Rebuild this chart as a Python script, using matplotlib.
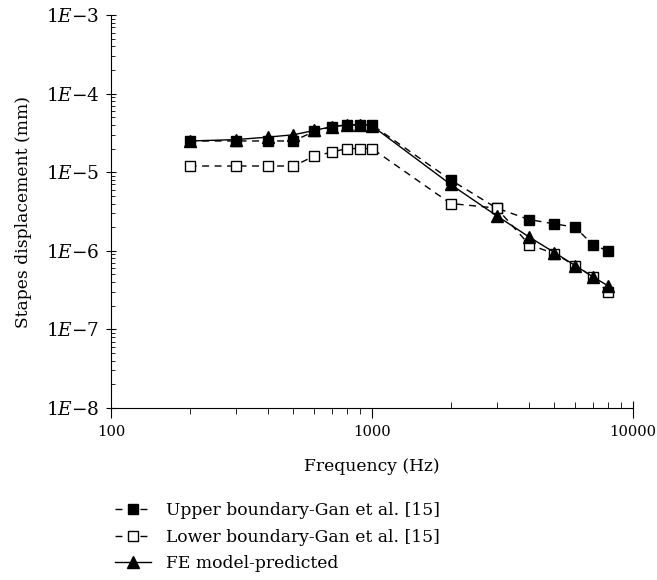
import math
import matplotlib.pyplot as plt
import matplotlib.ticker as mticker

plt.rcParams['font.family'] = 'DejaVu Serif'
plt.rcParams['mathtext.fontset'] = 'custom'
plt.rcParams['mathtext.rm'] = 'DejaVu Serif'
plt.rcParams['mathtext.it'] = 'DejaVu Serif:italic'

freq = [200, 300, 400, 500, 600, 700, 800, 900, 1000,
        2000, 3000, 4000, 5000, 6000, 7000, 8000]
upper = [2.5e-5, 2.5e-5, 2.5e-5, 2.5e-5, 3.3e-5, 3.8e-5, 4.0e-5, 4.0e-5, 4.0e-5,
         8.0e-6, 3.5e-6, 2.5e-6, 2.2e-6, 2.0e-6, 1.2e-6, 1.0e-6]
lower = [1.2e-5, 1.2e-5, 1.2e-5, 1.2e-5, 1.6e-5, 1.8e-5, 2.0e-5, 2.0e-5, 2.0e-5,
         4.0e-6, 3.5e-6, 1.2e-6, 0.92e-6, 0.65e-6, 0.47e-6, 0.3e-6]
fe = [2.5e-5, 2.6e-5, 2.8e-5, 3.0e-5, 3.4e-5, 3.8e-5, 4.0e-5, 4.0e-5, 3.9e-5,
      7.0e-6, 2.8e-6, 1.5e-6, 0.95e-6, 0.65e-6, 0.47e-6, 0.36e-6]
xticks = [100, 1000, 10000]

fs = 12.3
fig = plt.figure(figsize=(6.57, 5.8), dpi=100)
ax = fig.add_axes([0.169, 0.2966, 0.7945, 0.6774])

ax.plot(freq, upper, color='black', lw=1, dashes=(5, 4), marker='s', ms=6.5,
        mfc='black', mec='black', label='Upper boundary-Gan et al. [15]')
ax.plot(freq, lower, color='black', lw=1, dashes=(5, 4), marker='s', ms=6.5,
        mfc='white', mec='black', mew=1, label='Lower boundary-Gan et al. [15]')
ax.plot(freq, fe, color='black', lw=1, marker='^', ms=8,
        mfc='black', mec='black', label='FE model-predicted')

ax.set_xscale('log')
ax.set_yscale('log')
ax.set_xlim(100, 10000)
ax.set_ylim(1e-8, 1e-3)

ax.spines['top'].set_visible(False)
ax.spines['right'].set_visible(False)

# first decade: ticks outward
ax.xaxis.set_major_locator(mticker.FixedLocator(xticks))
ax.xaxis.set_minor_locator(mticker.FixedLocator(range(200, 1000, 100)))
ax.xaxis.set_minor_formatter(mticker.NullFormatter())
ax.xaxis.set_major_formatter(mticker.FuncFormatter(lambda v, p: '%d' % v))
ax.tick_params(axis='x', which='major', direction='out', length=7, labelsize=10.6, pad=5)
ax.tick_params(axis='x', which='minor', direction='out', length=4)

# second decade: ticks inward
sec = ax.secondary_xaxis('bottom')
sec.spines['bottom'].set_visible(False)
sec.xaxis.set_major_locator(mticker.FixedLocator([10000]))
sec.xaxis.set_minor_locator(mticker.FixedLocator(range(2000, 10000, 1000)))
sec.xaxis.set_major_formatter(mticker.NullFormatter())
sec.xaxis.set_minor_formatter(mticker.NullFormatter())
sec.tick_params(axis='x', which='major', direction='in', length=5)
sec.tick_params(axis='x', which='minor', direction='in', length=4)

ax.yaxis.set_major_locator(mticker.LogLocator(base=10))
ax.yaxis.set_minor_locator(mticker.LogLocator(base=10, subs=range(2, 10)))
ax.yaxis.set_minor_formatter(mticker.NullFormatter())
ax.yaxis.set_major_formatter(mticker.FuncFormatter(
    lambda v, p: '1$\\mathit{E}$\u2212%d' % round(-math.log10(v))))
ax.tick_params(axis='y', which='major', direction='inout', length=7, labelsize=13.3, pad=5)
ax.tick_params(axis='y', which='minor', direction='in', length=3)

ax.set_xlabel('Frequency (Hz)', fontsize=fs, labelpad=14)
ax.set_ylabel('Stapes displacement (mm)', fontsize=fs, labelpad=10)

fig.legend(loc='upper left', bbox_to_anchor=(0.175, 0.134), frameon=False,
           fontsize=fs, handlelength=2.1, labelspacing=0.56, handletextpad=0.9,
           borderpad=0, borderaxespad=0)

fig.savefig('out.png', dpi=100)
